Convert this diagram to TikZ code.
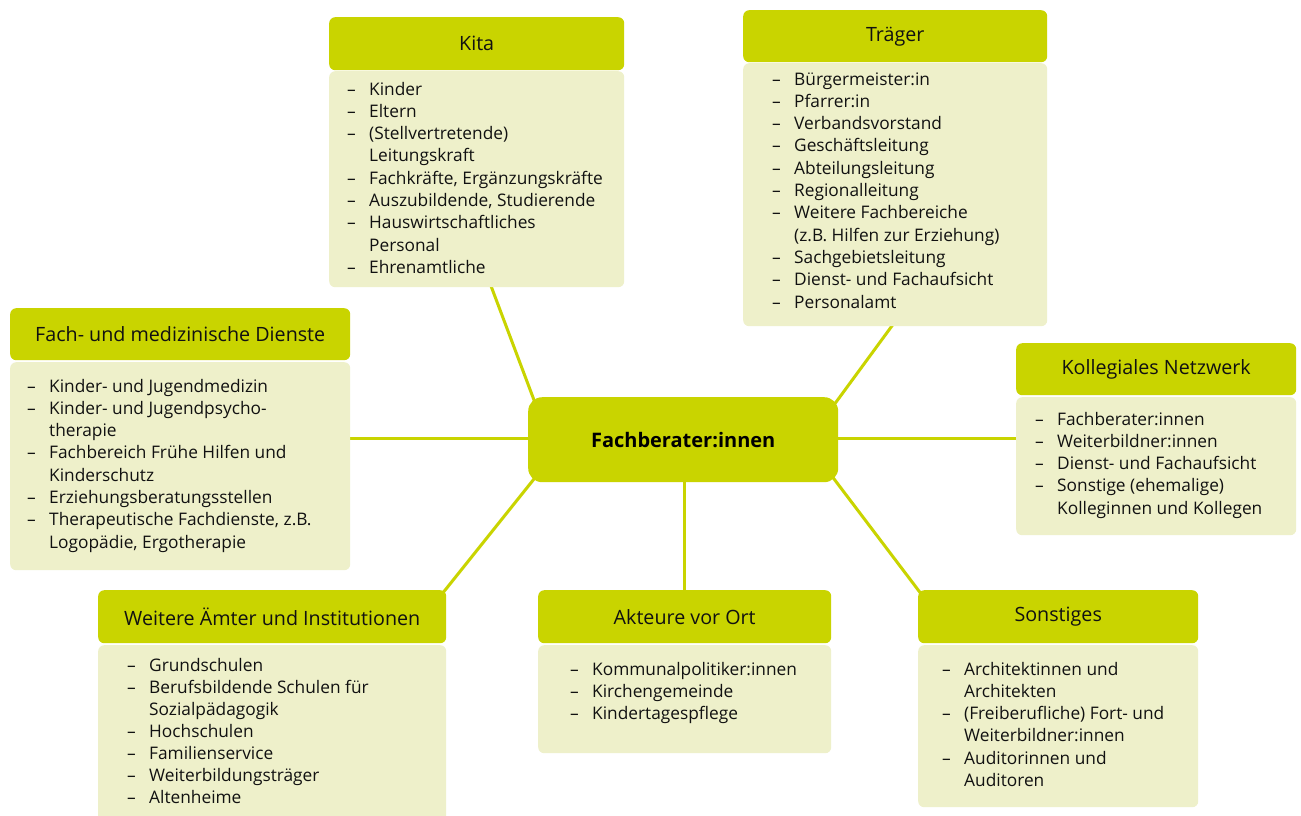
\documentclass[tikz,border=0pt]{standalone}
\usepackage{fontspec}
\setmainfont{Open Sans}
\definecolor{hdrc}{HTML}{C9D400}
\definecolor{bdyc}{HTML}{EEF0CA}
\definecolor{txtc}{HTML}{111111}
\newcommand\dsh{\makebox[22pt][l]{–}}
\newcommand\cnt{\hspace*{22pt}}
\newcommand\lstbox[2][22.3pt]{\parbox[t]{330pt}{\raggedright\fontsize{17.3pt}{#1}\selectfont #2}}
\tikzset{
  hdr/.style={fill=hdrc, rounded corners=6pt, inner sep=0pt, anchor=north west, text=txtc, font=\fontsize{19.7pt}{22pt}\selectfont},
  bdy/.style={fill=bdyc, rounded corners=6pt, inner sep=0pt, anchor=north west},
  lst/.style={anchor=base west, inner sep=0pt, text=txtc},
  conn/.style={draw=hdrc, line width=3pt},
  ctr/.style={fill=hdrc, rounded corners=14pt, inner sep=0pt, anchor=north west, text=black, font=\fontsize{20pt}{22pt}\selectfont\bfseries}
}
\begin{document}
\begin{tikzpicture}[x=1pt,y=-1pt]
\clip (0,0) rectangle (1301,815);
\fill[white] (0,0) rectangle (1301,815);
% connector end points
\coordinate (k1) at (488,278); \coordinate (k2) at (537,408);
\coordinate (t1) at (897,319); \coordinate (t2) at (831,409);
\coordinate (f1) at (345,438); \coordinate (f2) at (535,438);
\coordinate (n1) at (1020,438); \coordinate (n2) at (830,438);
\coordinate (w1) at (438,599); \coordinate (w2) at (538,474);
\coordinate (a1) at (684,597); \coordinate (a2) at (684,475);
\coordinate (s1) at (925,599); \coordinate (s2) at (828,471);
\draw[conn] (k1) -- (k2);
\draw[conn] (t1) -- (t2);
\draw[conn] (f1) -- (f2);
\draw[conn] (n1) -- (n2);
\draw[conn] (w1) -- (w2);
\draw[conn] (a1) -- (a2);
\draw[conn] (s1) -- (s2);
% center
\node[ctr, minimum width=310pt, minimum height=85pt] (ctr) at (528,397) {Fachberater:innen};
% Kita
\node[hdr, minimum width=295pt, minimum height=53pt] (kitah) at (329,17) {Kita};
\node[bdy, minimum width=295pt, minimum height=216pt] (kitab) at (329,71) {};
\node[lst] (kital) at (347,95) {\lstbox{\dsh Kinder\\\dsh Eltern\\\dsh (Stellvertretende)\\\cnt Leitungskraft\\\dsh Fachkräfte, Ergänzungskräfte\\\dsh Auszubildende, Studierende\\\dsh Hauswirtschaftliches\\\cnt Personal\\\dsh Ehrenamtliche}};
% Traeger
\node[hdr, minimum width=304pt, minimum height=52pt] (trh) at (743,10) {Träger};
\node[bdy, minimum width=304pt, minimum height=263pt] (trb) at (743,63) {};
\node[lst] (trl) at (772,85) {\lstbox{\dsh Bürgermeister:in\\\dsh Pfarrer:in\\\dsh Verbandsvorstand\\\dsh Geschäftsleitung\\\dsh Abteilungsleitung\\\dsh Regionalleitung\\\dsh Weitere Fachbereiche\\\cnt (z.B. Hilfen zur Erziehung)\\\dsh Sachgebietsleitung\\\dsh Dienst- und Fachaufsicht\\\dsh Personalamt}};
% Fach- und medizinische Dienste
\node[hdr, minimum width=340pt, minimum height=52pt] (fah) at (10,308) {Fach- und medizinische Dienste};
\node[bdy, minimum width=340pt, minimum height=208pt] (fab) at (10,362) {};
\node[lst] (fal) at (27,392) {\lstbox{\dsh Kinder- und Jugendmedizin\\\dsh Kinder- und Jugendpsycho-\\\cnt therapie\\\dsh Fachbereich Frühe Hilfen und\\\cnt Kinderschutz\\\dsh Erziehungsberatungsstellen\\\dsh Therapeutische Fachdienste, z.B.\\\cnt Logopädie, Ergotherapie}};
% Kollegiales Netzwerk
\node[hdr, minimum width=280pt, minimum height=52pt] (koh) at (1016,343) {Kollegiales Netzwerk};
\node[bdy, minimum width=280pt, minimum height=138pt] (kob) at (1016,397) {};
\node[lst] (kol) at (1035,425) {\lstbox{\dsh Fachberater:innen\\\dsh Weiterbildner:innen\\\dsh Dienst- und Fachaufsicht\\\dsh Sonstige (ehemalige)\\\cnt Kolleginnen und Kollegen}};
% Weitere Aemter
\node[hdr, minimum width=348pt, minimum height=53pt] (weh) at (98,590) {Weitere Ämter und Institutionen};
\node[bdy, minimum width=348pt, minimum height=190pt] (web) at (98,645) {};
\node[lst] (wel) at (127,671) {\lstbox[22pt]{\dsh Grundschulen\\\dsh Berufsbildende Schulen für\\\cnt Sozialpädagogik\\\dsh Hochschulen\\\dsh Familienservice\\\dsh Weiterbildungsträger\\\dsh Altenheime}};
% Akteure vor Ort
\node[hdr, minimum width=293pt, minimum height=53pt] (akh) at (538,590) {Akteure vor Ort};
\node[bdy, minimum width=293pt, minimum height=108pt] (akb) at (538,645) {};
\node[lst] (akl) at (570,675) {\lstbox{\dsh Kommunalpolitiker:innen\\\dsh Kirchengemeinde\\\dsh Kindertagespflege}};
% Sonstiges
\node[hdr, minimum width=280pt, minimum height=53pt] (soh) at (918,590) {Sonstiges};
\node[bdy, minimum width=280pt, minimum height=162pt] (sob) at (918,645) {};
\node[lst] (sol) at (942,675) {\lstbox{\dsh Architektinnen und\\\cnt Architekten\\\dsh (Freiberufliche) Fort- und\\\cnt Weiterbildner:innen\\\dsh Auditorinnen und\\\cnt Auditoren}};
\end{tikzpicture}
\end{document}
